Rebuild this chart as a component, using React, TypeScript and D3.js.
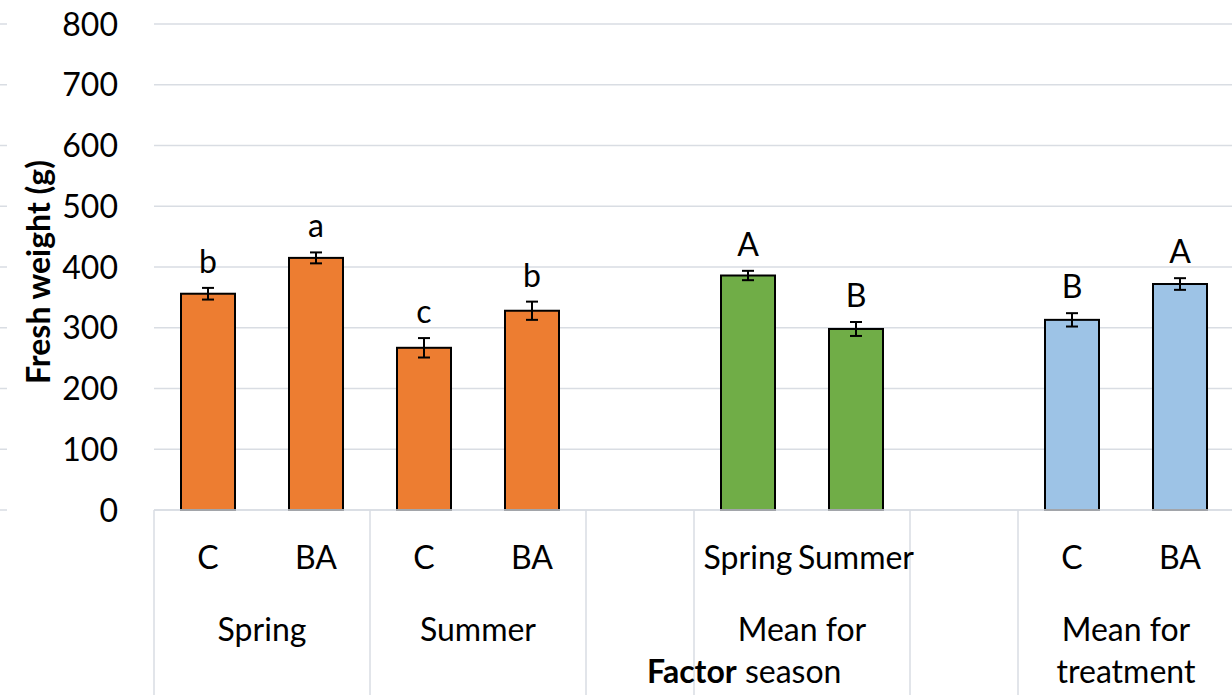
import React from 'react';
import * as d3 from 'd3';

// values
const slotLabels = ['C', 'BA', 'C', 'BA', '', 'Spring', 'Summer', '', 'C', 'BA'];
const freshWeight = [356, 415, 267, 328, null, 386, 298, null, 313, 372];
const stdErr = [9.6, 9, 16, 15, null, 7.7, 11.5, null, 11, 9.6];
const letters = ['b', 'a', 'c', 'b', '', 'A', 'B', '', 'B', 'A'];
const barColors = ['#ED7D31', '#ED7D31', '#ED7D31', '#ED7D31', '', '#70AD47', '#70AD47', '', '#9DC3E6', '#9DC3E6'];
const yTicks = [0, 100, 200, 300, 400, 500, 600, 700, 800];

// outer groups of the two-level axis: [first slot, last slot, label lines]
const groups: [number, number, string[]][] = [
  [0, 1, ['Spring']],
  [2, 3, ['Summer']],
  [4, 4, []],
  [5, 6, ['Mean for']],
  [7, 7, []],
  [8, 9, ['Mean for', 'treatment']],
];

const W = 1232;
const H = 695;
const font = 'Lato, "Open Sans", sans-serif';
const gridColor = '#D9DDE3';

export default function App() {
  const x = d3.scaleBand<number>()
    .domain(d3.range(slotLabels.length))
    .range([154, 1234])
    .paddingInner(0.5)
    .paddingOuter(0.25);
  const y = d3.scaleLinear().domain([0, 800]).range([510, 24]);
  const step = x.step();
  const left = (i: number) => x(i)! - step * 0.25;
  const cx = (i: number) => x(i)! + x.bandwidth() / 2;

  return (
    <svg width={W} height={H} style={{ position: 'absolute', left: 0, top: 0, background: '#fff' }}
      fontFamily={font}>
      {/* gridlines */}
      {yTicks.map(t => (
        <g key={t}>
          <line x1={0} x2={7} y1={y(t)} y2={y(t)} stroke={gridColor} strokeWidth={1.5} />
          <line x1={154} x2={W} y1={y(t)} y2={y(t)} stroke={gridColor} strokeWidth={1.5} />
          <text x={118} y={y(t)} dy="0.36em" textAnchor="end" fontSize={32} fill="#000">{t}</text>
        </g>
      ))}

      {/* bars */}
      {freshWeight.map((v, i) => v == null ? null : (
        <g key={i}>
          <rect x={x(i)} y={y(v)} width={x.bandwidth()} height={y(0) - y(v)}
            fill={barColors[i]} stroke="#000" strokeWidth={2} />
          <line x1={cx(i)} x2={cx(i)} y1={y(v + stdErr[i]!)} y2={y(v - stdErr[i]!)} stroke="#000" strokeWidth={2} />
          <line x1={cx(i) - 6} x2={cx(i) + 6} y1={y(v + stdErr[i]!)} y2={y(v + stdErr[i]!)} stroke="#000" strokeWidth={2} />
          <line x1={cx(i) - 6} x2={cx(i) + 6} y1={y(v - stdErr[i]!)} y2={y(v - stdErr[i]!)} stroke="#000" strokeWidth={2} />
          <text x={cx(i)} y={y(v + stdErr[i]!) - 15} textAnchor="middle" fontSize={32} fill="#000">{letters[i]}</text>
        </g>
      ))}

      {/* category axis */}
      <line x1={154} x2={W} y1={y(0)} y2={y(0)} stroke={gridColor} strokeWidth={1.5} />
      {groups.map(([a, b]) => (
        <line key={'s' + a} x1={left(a)} x2={left(a)} y1={y(0)} y2={H} stroke={gridColor} strokeWidth={1.5} />
      ))}
      {slotLabels.map((l, i) => (
        <text key={'c' + i} x={cx(i)} y={569} textAnchor="middle" fontSize={32} fill="#000">{l}</text>
      ))}
      {groups.map(([a, b, lines]) => lines.map((l, k) => (
        <text key={'g' + a + k} x={(left(a) + left(b) + step) / 2} y={641 + k * 42}
          textAnchor="middle" fontSize={32} fill="#000">{l}</text>
      )))}
      <text x={647} y={683} fontSize={32} fill="#000">
        <tspan fontWeight="bold">Factor</tspan> season
      </text>

      {/* y axis title */}
      <text transform={`translate(50,${272}) rotate(-90)`} textAnchor="middle" fontSize={32}
        fontWeight="bold" fill="#000">Fresh weight (g)</text>
    </svg>
  );
}
